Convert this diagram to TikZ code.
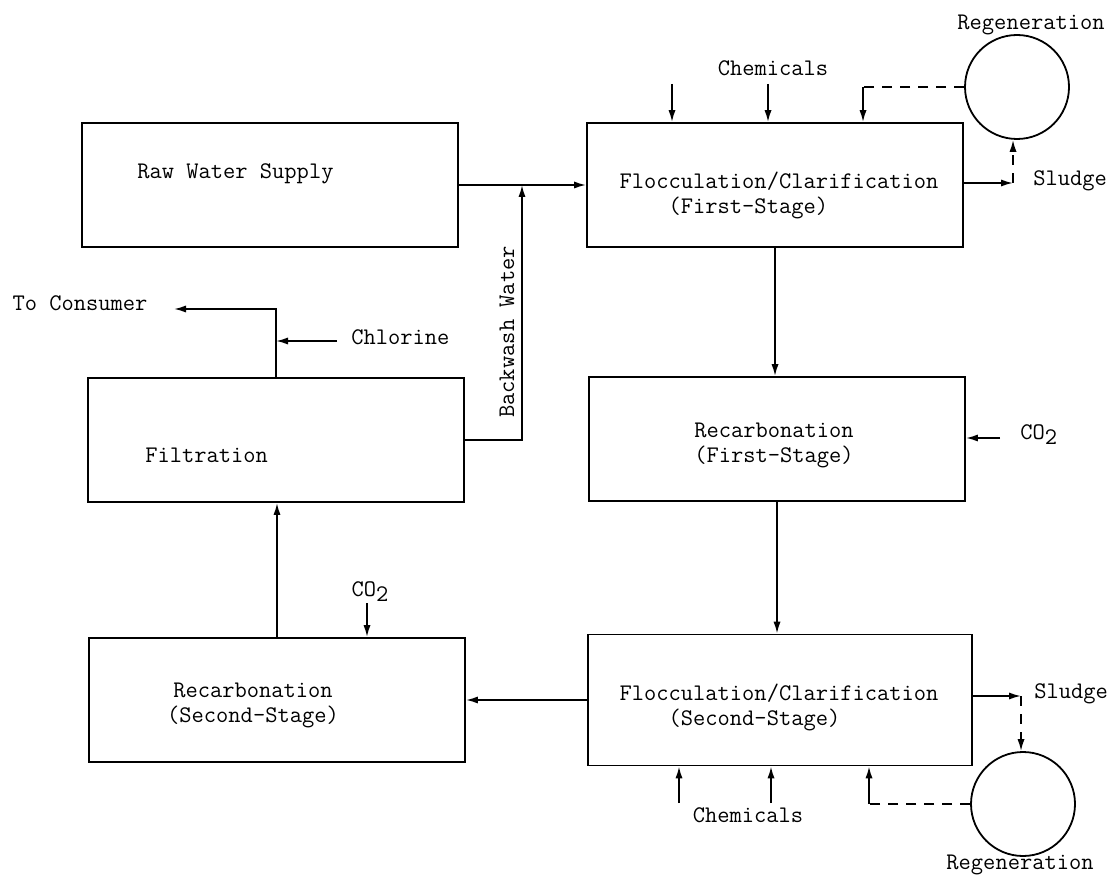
\documentclass[tikz,border=0pt]{standalone}
\usetikzlibrary{arrows.meta, positioning, calc}

\begin{document}
\begin{tikzpicture}[x=0.5pt, y=-0.5pt,
    every node/.style={font=\ttfamily\fontsize{11.9}{12.5}\selectfont, inner sep=2pt},
    procbox/.style={draw, line width=0.9pt, minimum width=188pt, minimum height=62pt, inner sep=0pt},
    tank/.style={draw, circle, line width=0.9pt, minimum size=52pt, inner sep=0pt},
    flow/.style={line width=0.9pt, -{Latex[length=6pt,width=3.6pt]}},
    sludgeline/.style={line width=0.9pt, dash pattern=on 5pt off 4pt}]
  \useasboundingbox (0,0) rectangle (1112,876);
  % Process units
  \node[procbox] (raw) at (270,185) {};
  \node[procbox] (floca) at (775,185) {};
  \node[procbox] (filt) at (276,440) {};
  \node[procbox] (recarba) at (777,439) {};
  \node[procbox] (recarbb) at (277,700) {};
  \node[procbox, minimum width=192pt, minimum height=65.5pt] (floccb) at (780,700) {};
  % Unit labels
  \node[anchor=west] (rawtxt) at (133,174) {Raw Water Supply};
  \node[align=left] (flocatxt) at (779,195) {Flocculation/Clarification\\\phantom{xxxx}(First-Stage)};
  \node[anchor=west] (filttxt) at (141,455) {Filtration};
  \node[align=center] (recarbatxt) at (774,445) {Recarbonation\\(First-Stage)};
  \node[align=center] (recarbbtxt) at (253,705) {Recarbonation\\(Second-Stage)};
  \node[align=left] (floccbtxt) at (779,707) {Flocculation/Clarification\\\phantom{xxxx}(Second-Stage)};
  % Regeneration tanks
  \node[tank] (regena) at (1017,87) {};
  \node[tank] (regenb) at (1023,804) {};
  \node (regenatxt) at (1031,25) {Regeneration};
  \node (regenbtxt) at (1020,865) {Regeneration};
  % Main water path
  \draw[flow] (raw) -- (floca);
  \draw[flow] (floca.south) -- (floca.south |- recarba.north);
  \draw[flow] (recarba.south) -- (recarba.south |- floccb.north);
  \draw[flow] (floccb) -- (recarbb);
  \draw[flow] (recarbb.north) -- (recarbb.north |- filt.south);
  % Backwash return
  \coordinate (bwjoin) at (522,185);
  \draw[flow] (filt.east) -| (bwjoin);
  \node[rotate=90] (bwtxt) at (507,332) {Backwash Water};
  % Product water and chlorine
  \node (constxt) at (80,303) {To Consumer};
  \coordinate (consout) at (174,309);
  \draw[flow] (filt.north) |- (consout);
  \node[anchor=west] (chlortxt) at (347,337) {Chlorine};
  \coordinate (chlorin) at (337,341);
  \draw[flow] (chlorin) -- (chlorin -| filt.north);
  % CO2 feeds
  \node[anchor=west] (coatxt) at (1016,435) {CO\raisebox{-.5ex}{2}};
  \coordinate (coain) at (1000,438);
  \draw[flow] (coain) -- (recarba.east |- coain);
  \node (cobtxt) at (370,592) {CO\raisebox{-.5ex}{2}};
  \coordinate (cobin) at (367,603);
  \draw[flow] (cobin) -- (cobin |- recarbb.north);
  % First-stage chemicals, sludge and regeneration
  \node (chematxt) at (773,68) {Chemicals};
  \foreach \cx in {672,768}
    \draw[flow] (\cx,84) -- (floca.north -| \cx,84);
  \coordinate (reta) at (863,87);
  \draw[sludgeline] (regena.west) -- (reta);
  \draw[flow] (reta) -- (reta |- floca.north);
  \coordinate (sluda) at (1013,183);
  \draw[flow] (floca.east |- sluda) -- (sluda);
  \draw[sludgeline, -{Latex[length=6pt,width=3.6pt]}] (sluda) -- (sluda |- regena.south);
  \node[anchor=west] (sludatxt) at (1029,181) {Sludge};
  % Second-stage chemicals, sludge and regeneration
  \node (chembtxt) at (748,815) {Chemicals};
  \foreach \cx in {679,771}
    \draw[flow] (\cx,803) -- (floccb.south -| \cx,803);
  \coordinate (retb) at (869,804);
  \draw[sludgeline] (regenb.west) -- (retb);
  \draw[flow] (retb) -- (retb |- floccb.south);
  \coordinate (sludb) at (1021,696);
  \draw[flow] (floccb.east |- sludb) -- (sludb);
  \draw[sludgeline, -{Latex[length=6pt,width=3.6pt]}] (sludb) -- (sludb |- regenb.north);
  \node[anchor=west] (sludbtxt) at (1030,694) {Sludge};
\end{tikzpicture}
\end{document}
